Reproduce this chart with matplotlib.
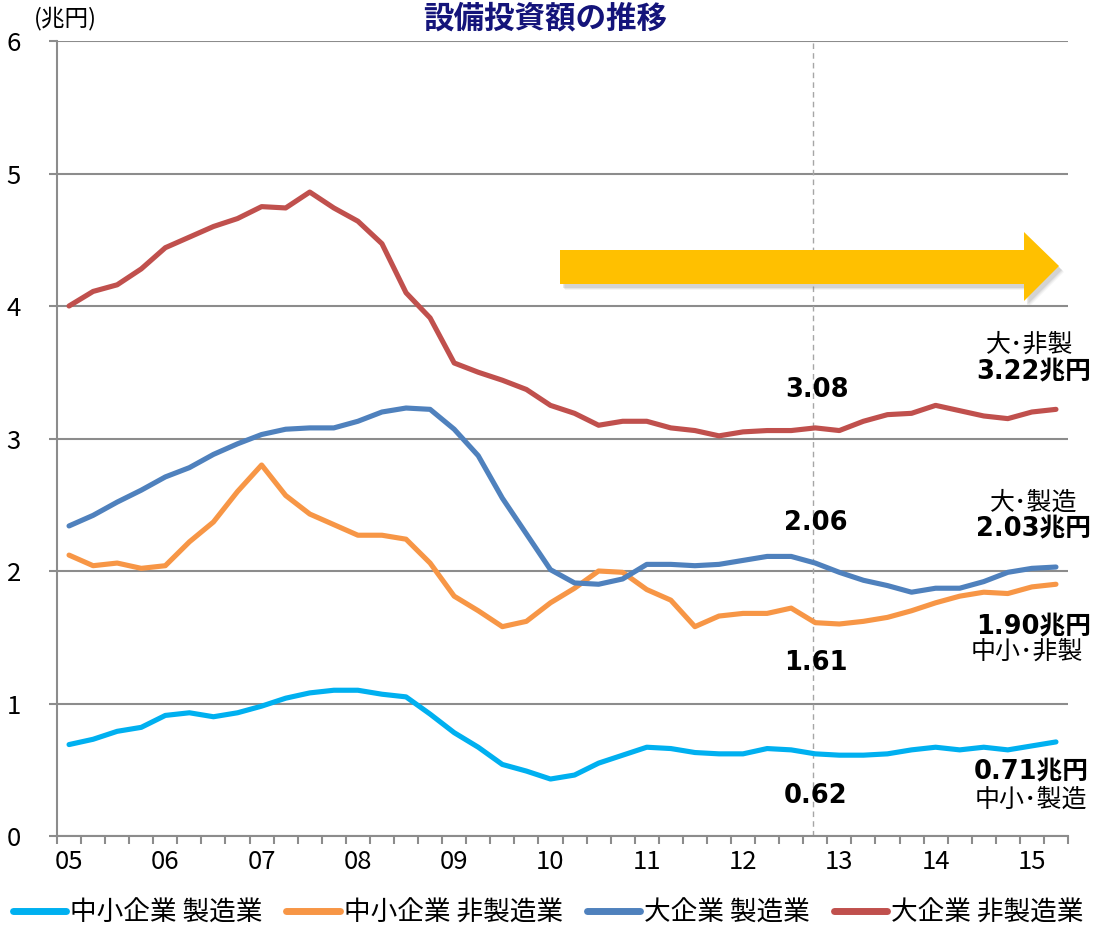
import matplotlib
matplotlib.use('Agg')
import matplotlib.pyplot as plt
from matplotlib.patches import Polygon
from matplotlib.lines import Line2D
import numpy as np

plt.rcParams['font.family'] = ['Noto Sans CJK JP', 'DejaVu Sans']

# ---------------- data (quarterly, 2005Q1 .. 2015Q2) ----------------
year_labels = ['05', '06', '07', '08', '09', '10', '11', '12', '13', '14', '15']

sme_mfg = [0.69, 0.73, 0.79, 0.82, 0.91, 0.93, 0.90, 0.93, 0.98, 1.04, 1.08, 1.10,
           1.10, 1.07, 1.05, 0.92, 0.78, 0.67, 0.54, 0.49, 0.43, 0.46, 0.55, 0.61,
           0.67, 0.66, 0.63, 0.62, 0.62, 0.66, 0.65, 0.62, 0.61, 0.61, 0.62, 0.65,
           0.67, 0.65, 0.67, 0.65, 0.68, 0.71]
sme_nonmfg = [2.12, 2.04, 2.06, 2.02, 2.04, 2.22, 2.37, 2.60, 2.80, 2.57, 2.43, 2.35,
              2.27, 2.27, 2.24, 2.06, 1.81, 1.70, 1.58, 1.62, 1.76, 1.87, 2.00, 1.99,
              1.86, 1.78, 1.58, 1.66, 1.68, 1.68, 1.72, 1.61, 1.60, 1.62, 1.65, 1.70,
              1.76, 1.81, 1.84, 1.83, 1.88, 1.90]
large_mfg = [2.34, 2.42, 2.52, 2.61, 2.71, 2.78, 2.88, 2.96, 3.03, 3.07, 3.08, 3.08,
             3.13, 3.20, 3.23, 3.22, 3.07, 2.87, 2.55, 2.28, 2.01, 1.91, 1.90, 1.94,
             2.05, 2.05, 2.04, 2.05, 2.08, 2.11, 2.11, 2.06, 1.99, 1.93, 1.89, 1.84,
             1.87, 1.87, 1.92, 1.99, 2.02, 2.03]
large_nonmfg = [4.00, 4.11, 4.16, 4.28, 4.44, 4.52, 4.60, 4.66, 4.75, 4.74, 4.86, 4.74,
                4.64, 4.47, 4.10, 3.91, 3.57, 3.50, 3.44, 3.37, 3.25, 3.19, 3.10, 3.13,
                3.13, 3.08, 3.06, 3.02, 3.05, 3.06, 3.06, 3.08, 3.06, 3.13, 3.18, 3.19,
                3.25, 3.21, 3.17, 3.15, 3.20, 3.22]

series_names = ['中小企業 製造業', '中小企業 非製造業', '大企業 製造業', '大企業 非製造業']
series_colors = ['#00B0F0', '#F79646', '#4F81BD', '#C0504D']
marker_index = 31   # 2012Q4

W, H = 1101, 930
GRAY = '#8C8C8C'


def fx(px):
    return px / W


def fy(py):
    return 1 - py / H


fig = plt.figure(figsize=(W / 100, H / 100), dpi=100)
ax = fig.add_axes([fx(57), fy(836), (1068 - 57) / W, (836 - 41) / H])

x = np.arange(len(sme_mfg))
all_series = [sme_mfg, sme_nonmfg, large_mfg, large_nonmfg]
handles = []
for vals, col, name in zip(all_series, series_colors, series_names):
    ax.plot(x, vals, color=col, lw=3.7, solid_joinstyle='round',
            solid_capstyle='round', label=name, zorder=3)
    handles.append(Line2D([0], [0], color=col, lw=5, solid_capstyle='round'))

ax.set_xlim(-0.5, len(x) - 0.5)
ax.set_ylim(0, 6)

# grid & spines
ax.set_yticks(range(7))
ax.yaxis.grid(True, color=GRAY, lw=1.5)
ax.set_axisbelow(True)
for s in ['top', 'right']:
    ax.spines[s].set_visible(False)
for s in ['left', 'bottom']:
    ax.spines[s].set_color(GRAY)
    ax.spines[s].set_linewidth(1.5)

# x ticks between categories, labels at year starts
ax.set_xticks(np.arange(-0.5, len(x), 1))
ax.set_xticklabels([])
ax.set_xticks(np.arange(0, len(x), 4), minor=True)
ax.set_xticklabels(year_labels, minor=True)
ax.tick_params(axis='x', which='major', length=6, width=1.5, color=GRAY, direction='out')
ax.tick_params(axis='x', which='minor', length=0, pad=9, labelsize=18.5)
ax.tick_params(axis='y', length=6, width=1.5, color=GRAY, labelsize=18.5, pad=20)

# dashed marker line
ax.axvline(marker_index - 0.08, color='#A6A6A6', lw=1.0, ls=(0, (4, 3)), zorder=2)

# yellow arrow with shadow
arrow_px = [(560, 250), (1024, 250), (1024, 232), (1059, 266),
            (1024, 301), (1024, 284), (560, 284)]
for k, a in [(3, 0.08), (2, 0.12), (1, 0.18)]:
    sh = [(fx(px + 2 + k), fy(py + 3 + k)) for px, py in arrow_px]
    fig.patches.append(Polygon(sh, closed=True, transform=fig.transFigure,
                               facecolor='#808080', edgecolor='none', alpha=a))
fig.patches.append(Polygon([(fx(px), fy(py)) for px, py in arrow_px], closed=True,
                           transform=fig.transFigure, facecolor='#FFC000',
                           edgecolor='none'))

# titles
fig.text(fx(545), fy(2), '設備投資額の推移', ha='center', va='top',
         fontsize=22, fontweight='bold', color='#14147A')
fig.text(fx(65), fy(18), '(兆円)', ha='center', va='center', fontsize=17)

# annotations
BOLDFAM = ['DejaVu Sans', 'Noto Sans CJK JP']


def note(px, py, s, bold=False, size=18):
    if bold:
        fig.text(fx(px), fy(py), s, ha='center', va='center', fontsize=size,
                 fontweight='bold', family=BOLDFAM)
    else:
        fig.text(fx(px), fy(py), s, ha='center', va='center', fontsize=size)


note(1030, 345, '大･非製', size=18)
note(1034, 371, '3.22兆円', bold=True, size=18.5)
note(817, 390, '3.08', bold=True, size=18.5)
note(1034, 503, '大･製造', size=18)
note(1034, 528, '2.03兆円', bold=True, size=18.5)
note(816, 523, '2.06', bold=True, size=18.5)
note(1034, 626, '1.90兆円', bold=True, size=18.5)
note(1027, 652, '中小･非製', size=18)
note(816, 663, '1.61', bold=True, size=18.5)
note(1031, 771, '0.71兆円', bold=True, size=18.5)
note(1031, 800, '中小･製造', size=18)
note(816, 796, '0.62', bold=True, size=18.5)

# legend
fig.legend(handles, series_names, loc='center', bbox_to_anchor=(fx(548), fy(913)),
           ncol=4, frameon=False, fontsize=19.2, handlelength=2.0,
           handletextpad=0.15, columnspacing=0.9, borderpad=0.1)

fig.savefig('out.png', dpi=100)
